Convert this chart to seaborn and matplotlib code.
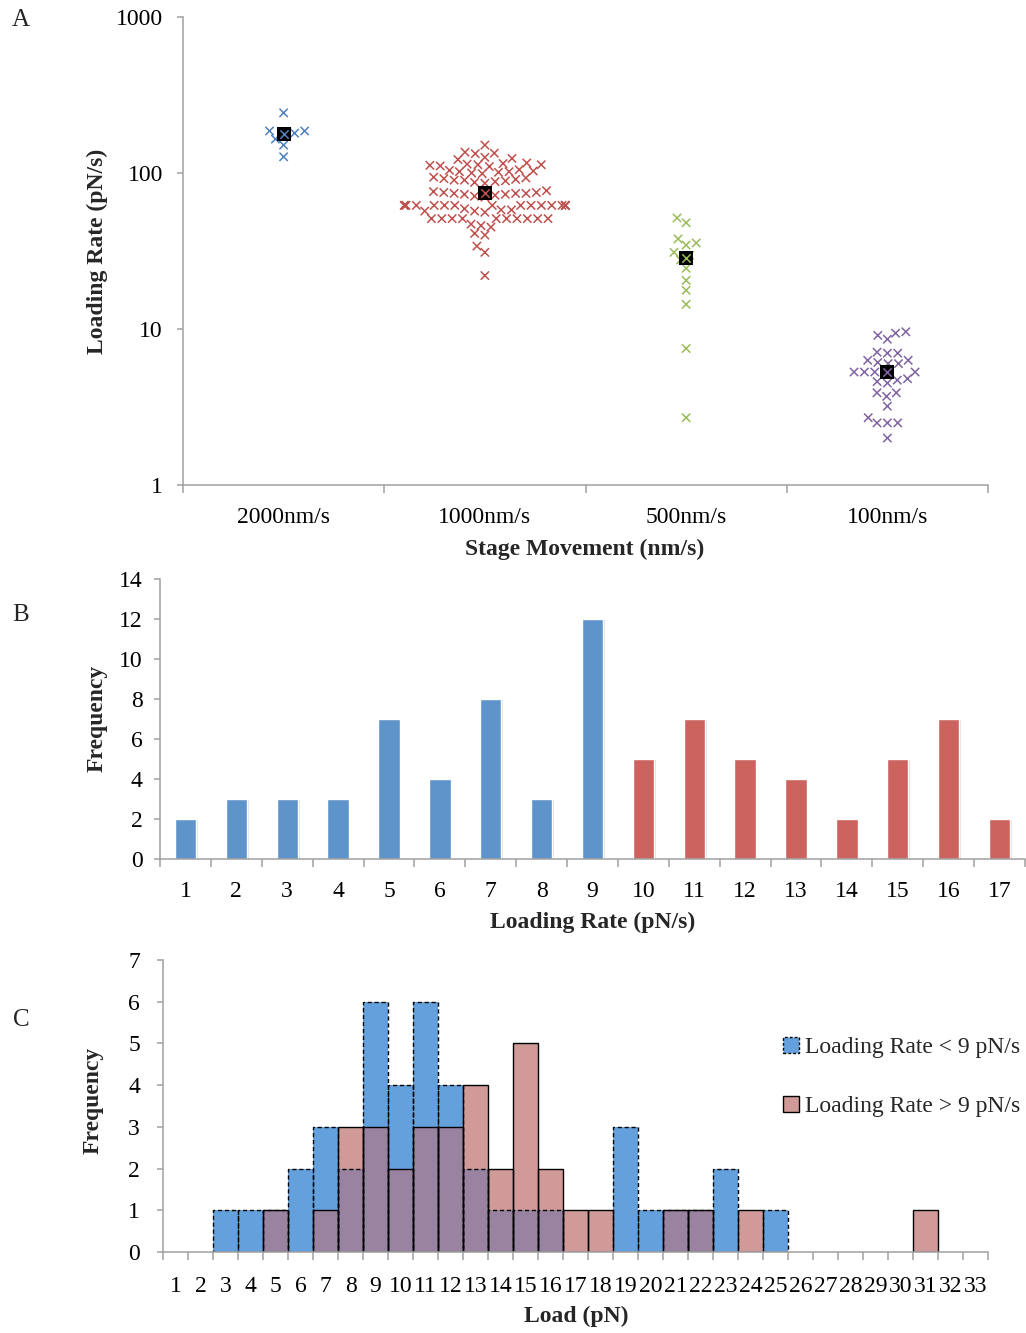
import numpy as np
import pandas as pd
import matplotlib
matplotlib.use("Agg")
import matplotlib.pyplot as plt
import seaborn as sns
from matplotlib.patches import Patch
from matplotlib import patheffects as pe
from matplotlib.ticker import FixedLocator, NullLocator, FuncFormatter

# ---------------- data ----------------
# A: loading rate per stage speed (pN/s)
speeds = ["2000nm/s", "1000nm/s", "500nm/s", "100nm/s"]
rate_2000 = [243, 186, 186, 180, 178, 165, 151, 127]
rate_1000 = [151, 134, 133, 136, 124, 126, 122,
             113, 115, 111, 114, 112, 110, 116, 113,
             102, 104, 100, 103, 101, 99, 105, 102,
             90, 92, 88, 91, 89, 87, 93, 90, 86, 94,
             75, 74, 73, 76, 72, 74, 75, 71, 77, 73, 74, 70,
             62, 62, 62, 62, 62, 62, 62, 62,
             62, 62, 62, 62, 62, 62, 62, 62,
             58, 57, 59, 58, 56, 57,
             51, 51, 51, 51, 51, 51, 51, 51, 51, 51,
             46, 47, 45, 41, 40, 34, 31, 22]
rate_500 = [51.5, 48, 35.6, 34.5, 37.8, 29.7, 27.7, 31, 24.5, 20.5,
            17.7, 14.4, 7.5, 2.7]
rate_100 = [9.6, 9.1, 9.4, 8.6, 7.0, 7.0, 7.1, 6.3, 6.0, 6.1, 6.3,
            5.3, 5.3, 5.3, 5.3, 6.0, 5.2, 4.6, 4.8, 4.7, 4.5,
            3.9, 3.7, 3.9, 3.2, 2.7, 2.5, 2.5, 2.5, 2.0]
rate_means = [178, 74, 28.5, 5.3]

# B: loading-rate histogram
rate_bins = list(range(1, 18))
rate_counts = [2, 3, 3, 3, 7, 4, 8, 3, 12, 5, 7, 5, 4, 2, 5, 7, 2]
rate_groups = ["low"] * 9 + ["high"] * 8

# C: load histograms for the two loading-rate groups
load_bins = list(range(1, 34))
load_low = [0, 0, 1, 1, 1, 2, 3, 2, 6, 4, 6, 4, 2, 1, 1, 1, 0, 0, 3, 1,
            1, 1, 2, 0, 1, 0, 0, 0, 0, 0, 0, 0, 0]
load_high = [0, 0, 0, 0, 1, 0, 1, 3, 3, 2, 3, 3, 4, 2, 5, 2, 1, 1, 0, 0,
             1, 1, 0, 1, 0, 0, 0, 0, 0, 0, 1, 0, 0]
legend_labels = ["Loading Rate < 9 pN/s", "Loading Rate > 9 pN/s"]

# ---------------- style ----------------
sns.set_theme(style="white")
plt.rcParams["font.family"] = ["Liberation Serif", "DejaVu Serif"]

AXIS_GRAY = "#A0A0A0"
A_COLORS = ["#4F81BD", "#C0504D", "#9BBB59", "#8064A2"]
B_COLORS = {"low": "#5E94C9", "high": "#CC635E"}
C_BLUE, C_PINK, C_PURPLE = "#63A0DC", "#D09A98", "#9A83A0"
FS = 17

W, H = 1026, 1333
fig = plt.figure(figsize=(W / 100, H / 100), dpi=100)


def frame(x0, y0, x1, y1):
    return [x0 / W, 1 - y1 / H, (x1 - x0) / W, (y1 - y0) / H]


def style_axes(ax, n_cat, ypad, xpad):
    for s in ["top", "right"]:
        ax.spines[s].set_visible(False)
    for s in ["left", "bottom"]:
        ax.spines[s].set_color(AXIS_GRAY)
        ax.spines[s].set_linewidth(1.1)
    ax.xaxis.set_minor_locator(FixedLocator(np.arange(-0.5, n_cat, 1.0)))
    ax.tick_params(axis="y", which="major", left=True, direction="out",
                   length=4.5, width=1.1, color=AXIS_GRAY, pad=ypad,
                   labelsize=FS, labelcolor="black")
    ax.tick_params(axis="y", which="minor", left=False)
    ax.tick_params(axis="x", which="major", bottom=False, length=0,
                   pad=xpad, labelsize=FS, labelcolor="black")
    ax.tick_params(axis="x", which="minor", bottom=True, direction="out",
                   length=5.5, width=1.1, color=AXIS_GRAY)


def place_labels(ax, xlabel, xc, yc, ylabel, yx, yy):
    ax.set_xlabel(xlabel, fontsize=FS, fontweight="bold", va="center")
    ax.xaxis.set_label_coords(xc / W, 1 - yc / H, transform=fig.transFigure)
    ax.set_ylabel(ylabel, fontsize=FS, fontweight="bold", va="center")
    ax.yaxis.set_label_coords(yx / W, 1 - yy / H, transform=fig.transFigure)


# ---------------- A: swarm of loading rates ----------------
axA = fig.add_axes(frame(183, 17, 988, 485))
rates = [rate_2000, rate_1000, rate_500, rate_100]
dfA = pd.DataFrame({
    "speed": np.repeat(speeds, [len(r) for r in rates]),
    "rate": np.concatenate(rates),
})
sns.swarmplot(data=dfA, x="speed", y="rate", hue="speed", order=speeds,
              hue_order=speeds, palette=A_COLORS, marker="x", size=6,
              linewidth=1.1, legend=False, log_scale=True, ax=axA)
dfM = pd.DataFrame({"speed": speeds, "rate": rate_means})
sns.stripplot(data=dfM, x="speed", y="rate", order=speeds, jitter=False,
              marker="s", size=9.5, color="black", linewidth=0,
              legend=False, ax=axA)
sns.stripplot(data=dfM, x="speed", y="rate", hue="speed", order=speeds,
              hue_order=speeds, palette=A_COLORS, jitter=False, marker="x",
              size=6, linewidth=1.1, legend=False, ax=axA)
axA.set_yscale("log")
axA.set_ylim(1, 1000)
axA.set_xlim(-0.5, 3.5)
axA.yaxis.set_major_locator(FixedLocator([1, 10, 100, 1000]))
axA.yaxis.set_major_formatter(FuncFormatter(lambda v, _: f"{v:g}"))
axA.yaxis.set_minor_locator(NullLocator())
axA.set_xticks(range(len(speeds)), speeds)
style_axes(axA, len(speeds), ypad=10, xpad=15.5)
place_labels(axA, "Stage Movement (nm/s)", 585, 549,
             "Loading Rate (pN/s)", 97, 251)

# ---------------- B: loading-rate histogram ----------------
axB = fig.add_axes(frame(160, 579, 1025, 859))
dfB = pd.DataFrame({"bin": rate_bins, "count": rate_counts,
                    "group": rate_groups})
sns.barplot(data=dfB, x="bin", y="count", hue="group", order=rate_bins,
            hue_order=["low", "high"], palette=B_COLORS, dodge=False,
            width=0.42, saturation=1, legend=False, ax=axB)
for bar in axB.patches:
    bar.set_path_effects([
        pe.SimplePatchShadow(offset=(1.2, -0.8), shadow_rgbFace="black",
                             alpha=0.12),
        pe.Normal(),
    ])
axB.set_ylim(0, 14)
axB.set_xlim(-0.5, len(rate_bins) - 0.5)
axB.yaxis.set_major_locator(FixedLocator(range(0, 15, 2)))
axB.set_xticks(range(len(rate_bins)), [str(b) for b in rate_bins])
style_axes(axB, len(rate_bins), ypad=8, xpad=15.5)
place_labels(axB, "Loading Rate (pN/s)", 593, 922, "Frequency", 97, 718)

# ---------------- C: overlaid load histograms ----------------
axC = fig.add_axes(frame(163, 960, 988, 1252))
low = np.array(load_low)
high = np.array(load_high)
both = np.minimum(low, high)
dfC = pd.DataFrame({"bin": load_bins, "low": low, "high": high,
                    "both": both})
common = dict(x="bin", order=load_bins, width=1, saturation=1, ax=axC)
sns.barplot(data=dfC[dfC["low"] > 0], y="low", color=C_BLUE,
            edgecolor="none", linewidth=0, **common)
sns.barplot(data=dfC[dfC["high"] > 0], y="high", color=C_PINK,
            edgecolor="none", linewidth=0, **common)
sns.barplot(data=dfC[dfC["both"] > 0], y="both", color=C_PURPLE,
            edgecolor="none", linewidth=0, **common)
sns.barplot(data=dfC[dfC["low"] > 0], y="low", color="black", fill=False,
            linewidth=1.0, linestyle=(0, (3, 2)), **common)
sns.barplot(data=dfC[dfC["high"] > 0], y="high", color="black", fill=False,
            linewidth=1.0, **common)
axC.set_ylim(0, 7)
axC.set_xlim(-0.5, len(load_bins) - 0.5)
axC.yaxis.set_major_locator(FixedLocator(range(0, 8)))
axC.set_xticks(range(len(load_bins)), [str(b) for b in load_bins])
style_axes(axC, len(load_bins), ypad=12, xpad=17)
place_labels(axC, "Load (pN)", 576, 1316, "Frequency", 93, 1100)

handles = [
    Patch(facecolor=C_BLUE, edgecolor="black", linestyle=(0, (2, 1.5)),
          linewidth=1.0),
    Patch(facecolor=C_PINK, edgecolor="black", linewidth=1.0),
]
axC.legend(handles, legend_labels, loc="upper left",
           bbox_to_anchor=(0.74, 0.77), frameon=False, fontsize=FS,
           handlelength=0.7, handleheight=0.7, handletextpad=0.25,
           labelspacing=1.6, borderaxespad=0)

# panel letters
for letter, y in [("A", 20), ("B", 615), ("C", 1020)]:
    fig.text(21 / W, 1 - y / H, letter, fontsize=18, ha="center",
             va="center")

fig.savefig("out.png", dpi=100)
